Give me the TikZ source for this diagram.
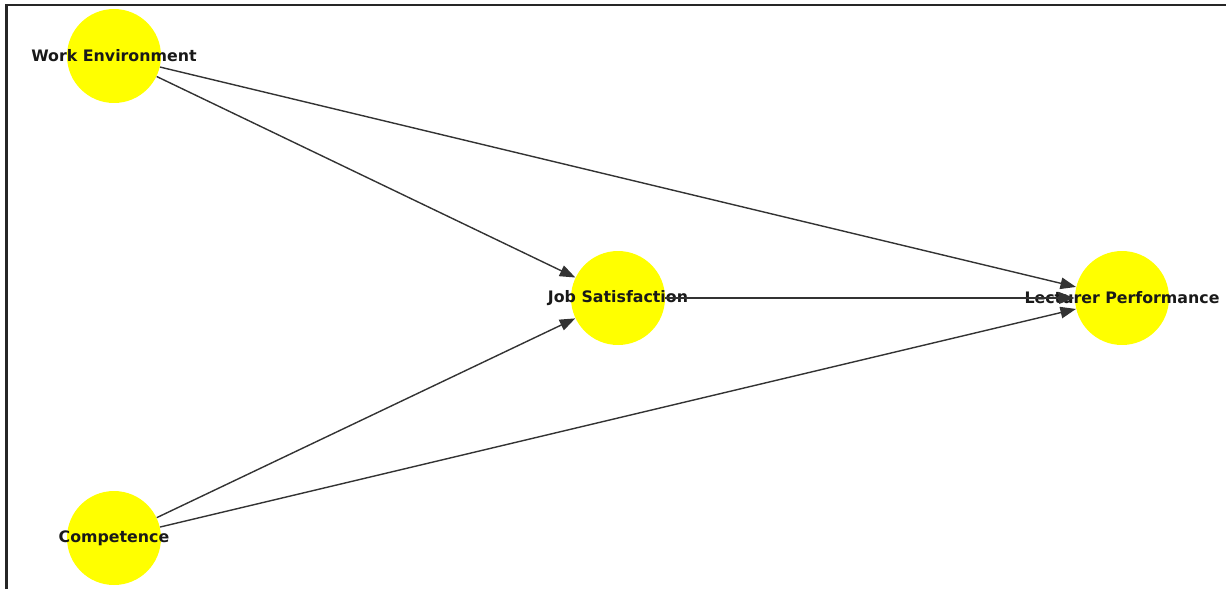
\documentclass[tikz,border=0pt]{standalone}
\usepackage{fontspec}
\setmainfont{DejaVu Sans}
\usetikzlibrary{arrows.meta,positioning}
\definecolor{nodeyellow}{RGB}{255,255,0}
\tikzset{
>={Triangle[length=3.1mm,width=2.3mm]},
  construct/.style={
    circle,
    fill=nodeyellow,
    minimum size=1.88cm,
    inner sep=0pt},
  caption/.style={
    font=\bfseries\fontsize{9}{11}\selectfont,
    text=black!90},
  link/.style={draw, line width=0.8pt, black!80, ->},
  frame/.style={line width=1.5pt, black!85},
}

\begin{document}
\begin{tikzpicture}[x=0.02cm, y=-0.02cm]
        \useasboundingbox (0,0) rectangle (1226,589);
        \draw[frame] (6.5,589) -- (6.5,5) -- (1226,5);
        % constructs
        \node[construct, label={[caption]center:Work Environment}] (env) at (114,56) {};
        \node[construct, label={[caption]center:Competence}] (comp) at (114,538) {};
        \node[construct, label={[caption]center:Job Satisfaction}] (sat) at (618,298) {};
        \node[construct, label={[caption]center:Lecturer Performance}] (perf) at (1122,298) {};
        % paths
        \path[link] (env) -- (sat);
        \path[link] (env) -- (perf);
        \path[link] (comp) -- (sat);
        \path[link] (comp) -- (perf);
        \path[link] (sat) -- (perf);
      \end{tikzpicture}
\end{document}
